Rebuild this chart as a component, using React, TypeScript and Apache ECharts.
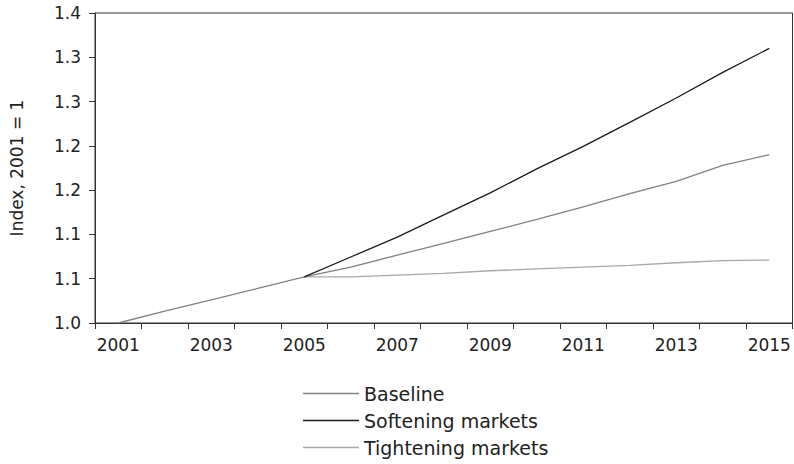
import React, { useEffect, useRef } from "react";
import * as echarts from "echarts";

const years = ["2001","2002","2003","2004","2005","2006","2007","2008","2009","2010","2011","2012","2013","2014","2015"];
const baseline = [1.0, 1.0135, 1.026, 1.039, 1.052, 1.063, 1.0767, 1.09, 1.1034, 1.117, 1.131, 1.146, 1.16, 1.178, 1.19];
const softening = [null, null, null, null, 1.052, 1.0745, 1.097, 1.122, 1.147, 1.174, 1.1995, 1.2265, 1.254, 1.283, 1.31];
const tightening = [null, null, null, null, 1.052, 1.052, 1.054, 1.056, 1.059, 1.061, 1.063, 1.065, 1.068, 1.0705, 1.071];
const yTickLabels = ["1.0", "1.1", "1.1", "1.2", "1.2", "1.3", "1.3", "1.4"];

const FONT = "DejaVu Sans";

export default function App() {
  const ref = useRef<HTMLDivElement>(null);
  useEffect(() => {
    if (!ref.current) return;
    const chart = echarts.init(ref.current, null, { renderer: "svg" });
    chart.setOption({
      animation: false,
      backgroundColor: "#ffffff",
      textStyle: { fontFamily: FONT },
      grid: {
        left: 92,
        right: 1.5,
        top: 13,
        bottom: 141,
        show: true,
        borderColor: "#333333",
        borderWidth: 1,
        containLabel: false,
      },
      legend: {
        orient: "vertical",
        left: 298,
        top: 379,
        icon: "rect",
        itemWidth: 56,
        itemHeight: 1.5,
        itemGap: 8,
        textStyle: { fontFamily: FONT, fontSize: 19, color: "#222222" },
        data: ["Baseline", "Softening markets", "Tightening markets"],
      },
      xAxis: {
        type: "category",
        data: years,
        boundaryGap: true,
        axisLine: { lineStyle: { color: "#333333", width: 1 } },
        axisTick: { show: true, interval: 0, length: 6, lineStyle: { color: "#333333" } },
        axisLabel: { interval: 1, fontFamily: FONT, fontSize: 17, color: "#222222", margin: 13 },
        splitLine: { show: false },
      },
      yAxis: {
        type: "value",
        min: 1,
        max: 1.35,
        interval: 0.05,
        name: "Index, 2001 = 1",
        nameLocation: "middle",
        nameRotate: 90,
        nameGap: 70,
        nameTextStyle: { fontFamily: FONT, fontSize: 17, color: "#222222" },
        axisLine: { show: true, lineStyle: { color: "#333333", width: 1 } },
        axisTick: { show: true, length: 6, lineStyle: { color: "#333333" } },
        axisLabel: {
          fontFamily: FONT,
          fontSize: 17,
          color: "#222222",
          margin: 14,
          formatter: (v: number) => yTickLabels[Math.round((v - 1) / 0.05)] ?? "",
        },
        splitLine: { show: false },
      },
      series: [
        {
          name: "Tightening markets",
          type: "line",
          data: tightening,
          symbol: "none",
          lineStyle: { color: "#a8a8a8", width: 1.3 },
          itemStyle: { color: "#a8a8a8" },
          z: 2,
        },
        {
          name: "Baseline",
          type: "line",
          data: baseline,
          symbol: "none",
          lineStyle: { color: "#808080", width: 1.3 },
          itemStyle: { color: "#808080" },
          z: 3,
        },
        {
          name: "Softening markets",
          type: "line",
          data: softening,
          symbol: "none",
          lineStyle: { color: "#1a1a1a", width: 1.3 },
          itemStyle: { color: "#1a1a1a" },
          z: 4,
        },
      ],
    });
    return () => chart.dispose();
  }, []);
  return <div ref={ref} style={{ width: 794, height: 464, position: "absolute", left: 0, top: 0 }} />;
}
